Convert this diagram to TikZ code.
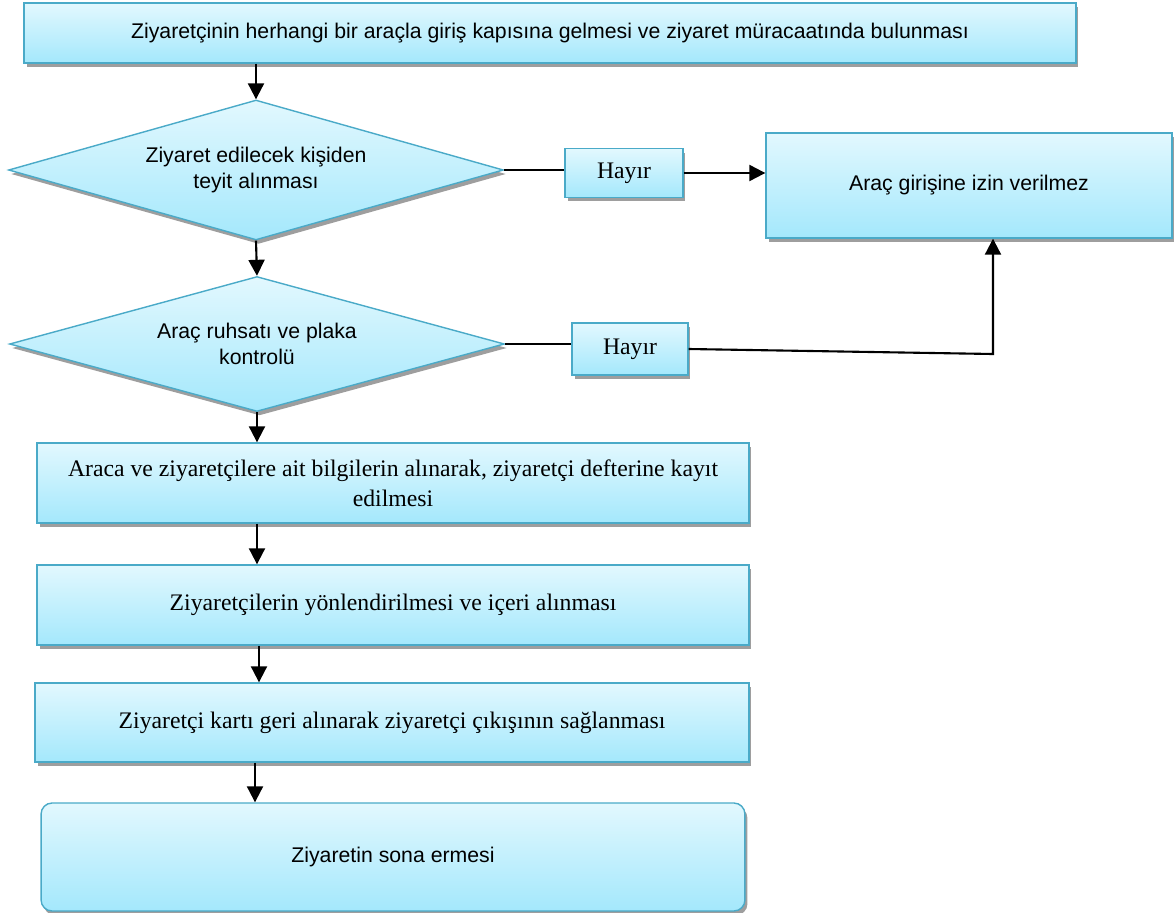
\documentclass[tikz,border=0pt]{standalone}
\usepackage{fontspec}
\setmainfont{Liberation Serif}
\newfontfamily\arialfont{Liberation Sans}
\usepackage{tikz}
\usetikzlibrary{positioning}
\usetikzlibrary{arrows.meta}
\usetikzlibrary{shapes,shadows}
\definecolor{boxtop}{RGB}{226,248,254}
\definecolor{boxbot}{RGB}{164,232,252}
\definecolor{boxline}{RGB}{74,170,200}

\begin{document}
\begin{tikzpicture}[x=0.02cm, y=-0.02cm]
	\useasboundingbox (0,0) rectangle (1174,913);
	\tikzset{
	    flowbox/.style={rectangle, draw=boxline, line width=0.8pt,
	        top color=boxtop, bottom color=boxbot, align=center, inner sep=2pt,
	        drop shadow={shadow xshift=0.05cm, shadow yshift=-0.08cm, fill=black!38, opacity=1}},
	    sansbox/.style={flowbox, font=\arialfont\fontsize{12.1}{15}\selectfont},
	    serifbox/.style={flowbox, font=\fontsize{13.5}{17}\selectfont},
	    decision/.style={sansbox, diamond, aspect=3.5, inner sep=0pt}
	}
	\begin{scope}
	    \node[sansbox, minimum width=21.04cm, minimum height=1.2cm] (start) at (550,33)
	        {Ziyaretçinin herhangi bir araçla giriş kapısına gelmesi ve ziyaret müracaatında bulunması};
	    \node[decision, minimum width=9.9cm, minimum height=2.8cm] (check1) at (256,170)
	        {Ziyaret edilecek kişiden\\teyit alınması};
	    \node[serifbox, minimum width=2.36cm, minimum height=0.98cm] (no1) at (624,173) {Hayır};
	    \node[sansbox, minimum width=8.12cm, minimum height=2.1cm] (reject) at (969,185.5)
	        {Araç girişine izin verilmez};
	    \node[decision, minimum width=9.9cm, minimum height=2.7cm] (check2) at (257,344)
	        {Araç ruhsatı ve plaka\\kontrolü};
	    \node[serifbox, minimum width=2.32cm, minimum height=1.04cm] (no2) at (630,349) {Hayır};
	    \node[serifbox, minimum width=14.24cm, minimum height=1.6cm] (record) at (393,483)
	        {Araca ve ziyaretçilere ait bilgilerin alınarak, ziyaretçi defterine kayıt\\edilmesi};
	    \node[serifbox, minimum width=14.24cm, minimum height=1.6cm] (guide) at (393,605)
	        {Ziyaretçilerin yönlendirilmesi ve içeri alınması};
	    \node[serifbox, minimum width=14.28cm, minimum height=1.58cm] (exit) at (392,722.5)
	        {Ziyaretçi kartı geri alınarak ziyaretçi çıkışının sağlanması};
	    \node[sansbox, rounded corners=0.22cm, minimum width=14.08cm, minimum height=2.16cm] (finish) at (393,857)
	        {Ziyaretin sona ermesi};
	    \coordinate (turn) at (993,354);
	\end{scope}

	\begin{scope}[>={Triangle[width=0.32cm,length=0.32cm]}, every path/.style={draw=black, line width=1.2pt}]
	    \path [->] (start.south -| check1.north) -- (check1.north);
	    \path [->] (check1.south) -- (check2.north);
	    \path [->] (check2.south) -- (record.north -| check2.south);
	    \path [->] (record.south -| check2.south) -- (guide.north -| check2.south);
	    \path [->] (guide.south -| 259,0) -- (exit.north -| 259,0);
	    \path [->] (exit.south -| 255,0) -- (finish.north -| 255,0);
	    \path (check1.east) -- (no1.west |- check1.east);
	    \path [->] (no1.east) -- (reject.west |- no1.east);
	    \path (check2.east) -- (no2.west |- check2.east);
	    \path [->] (no2.east) -- (turn) -- (turn |- reject.south);
	\end{scope}
\end{tikzpicture}
\end{document}
